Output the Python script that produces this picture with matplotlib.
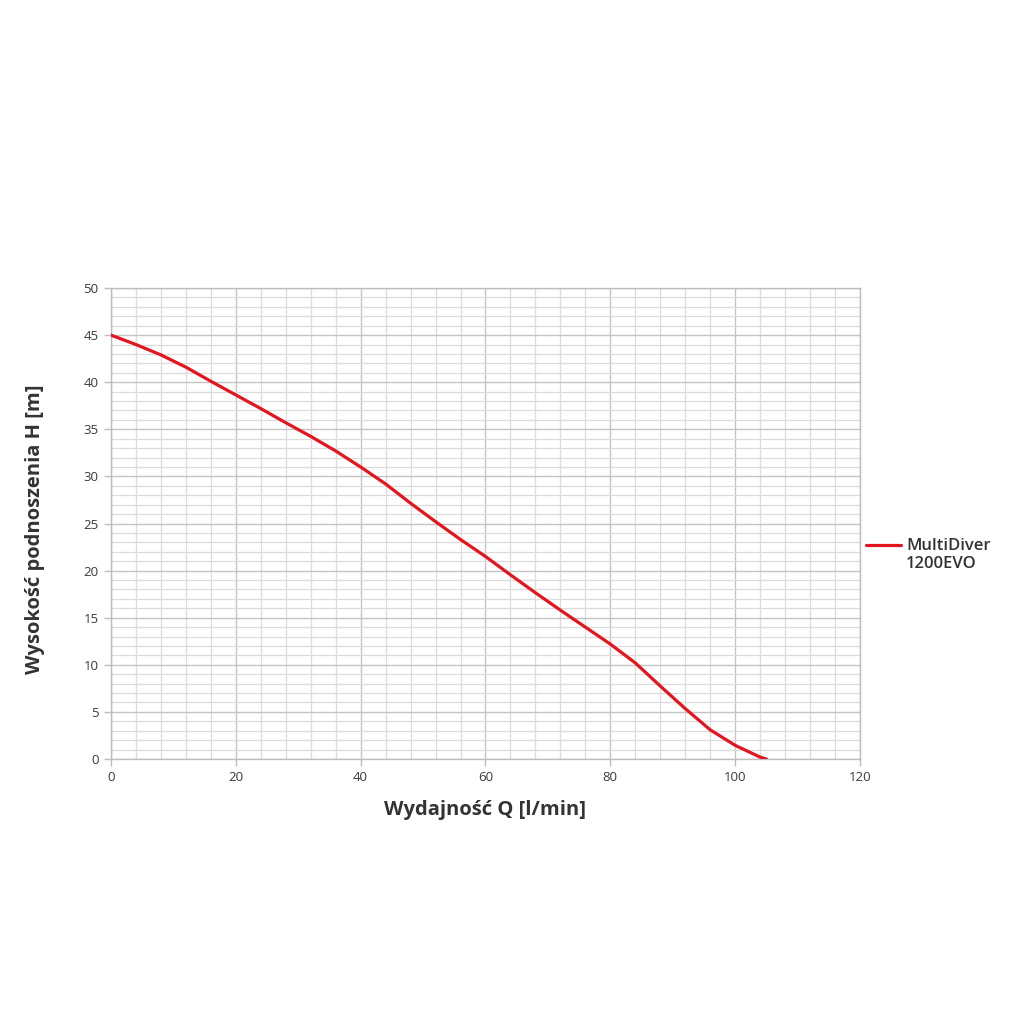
import matplotlib
matplotlib.use('Agg')
import matplotlib.pyplot as plt
from matplotlib.ticker import MultipleLocator
from matplotlib.legend_handler import HandlerLine2D

# ── Data ───────────────────────────────────────────────────────────────
flow = [0, 4, 8, 12, 16, 20, 24, 28, 32, 36, 40, 44, 48, 52, 56, 60,
        64, 68, 72, 76, 80, 84, 88, 92, 96, 100, 104, 105]
head = [45.0, 44.0, 42.9, 41.6, 40.1, 38.65, 37.2, 35.7, 34.25, 32.7,
        31.0, 29.2, 27.15, 25.2, 23.3, 21.5, 19.55, 17.65, 15.8, 14.0,
        12.2, 10.2, 7.75, 5.35, 3.1, 1.45, 0.2, 0.0]
series_label = 'MultiDiver\n1200EVO'

x_label = 'Wydajność Q [l/min]'
y_label = 'Wysokość podnoszenia H [m]'


class TopAlignedLine(HandlerLine2D):
    """Legend line sitting next to the first line of a two-line label."""
    def create_artists(self, legend, orig_handle, xdescent, ydescent,
                       width, height, fontsize, trans):
        arts = super().create_artists(legend, orig_handle, xdescent, ydescent,
                                      width, height, fontsize, trans)
        for a in arts:
            a.set_ydata([y + 0.6 * fontsize for y in a.get_ydata()])
        return arts


# ── Figure ─────────────────────────────────────────────────────────────
fig = plt.figure(figsize=(10.2, 10.17), dpi=100)
ax = fig.add_axes([0.1088, 0.2537, 0.8431 - 0.1088, 0.7168 - 0.2537])

line, = ax.plot(flow, head, color='#e3151f', linewidth=2.3,
                label=series_label, solid_capstyle='round',
                solid_joinstyle='round', zorder=3)

ax.set_xlim(0, 120)
ax.set_ylim(0, 50)
ax.xaxis.set_major_locator(MultipleLocator(20))
ax.xaxis.set_minor_locator(MultipleLocator(4))
ax.yaxis.set_major_locator(MultipleLocator(5))
ax.yaxis.set_minor_locator(MultipleLocator(1))

ax.grid(True, which='minor', color='#dcdcdc', linewidth=0.9)
ax.grid(True, which='major', color='#c4c4c4', linewidth=1.0)
ax.set_axisbelow(True)

for sp in ax.spines.values():
    sp.set_color('#bdbdbd')
    sp.set_linewidth(1.0)

ax.tick_params(which='major', length=5, color='#bdbdbd', width=1.0,
               labelsize=9.5, labelcolor='#3a3a3a', pad=4)
ax.tick_params(which='minor', length=0)
for lbl in ax.get_xticklabels() + ax.get_yticklabels():
    lbl.set_family('Open Sans')

ax.set_xlabel(x_label, fontsize=14.5, fontweight='bold', family='Open Sans',
              color='#333333', labelpad=11)
ax.set_ylabel(y_label, fontsize=14.5, fontweight='bold', family='Open Sans',
              color='#333333')
ax.yaxis.set_label_coords(-0.088, 0.487)

leg = ax.legend(handles=[line], loc='center left',
                bbox_to_anchor=(0.988, 0.433), frameon=False,
                handlelength=2.1, handletextpad=0.3,
                handler_map={line: TopAlignedLine()},
                prop={'family': 'Open Sans', 'weight': 'semibold',
                      'size': 12})
for t in leg.get_texts():
    t.set_color('#333333')

fig.savefig('out.png', dpi=100, facecolor='white')
